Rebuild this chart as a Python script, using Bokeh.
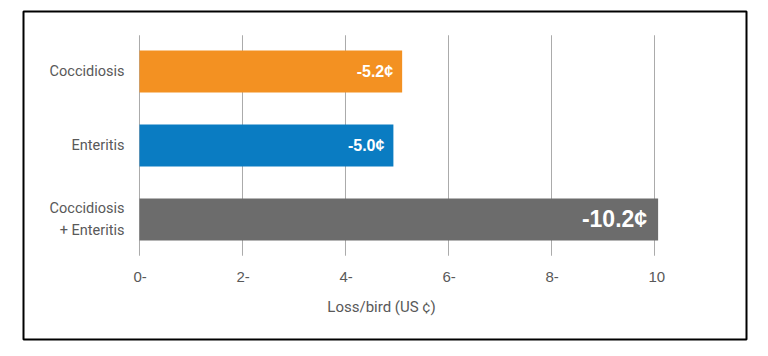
from bokeh.plotting import figure
from bokeh.models import ColumnDataSource, Range1d
from bokeh.core.properties import value
from bokeh.embed import file_html
from bokeh.resources import INLINE

# ---- data ----
categories = ["Coccidiosis", "Enteritis", "Coccidiosis\n+ Enteritis"]
loss_values = [5.1, 4.93, 10.07]
value_labels = ["-5.2¢", "-5.0¢", "-10.2¢"]
bar_colors = ["#F39122", "#0A7CC2", "#6C6C6C"]
y_positions = [2, 1, 0]
tick_values = [0, 2, 4, 6, 8, 10]
tick_labels = ["0-", "2-", "4-", "6-", "8-", "10"]
x_title = "Loss/bird (US ¢)"

FONT = "Roboto"
TXT = "#595959"

p = figure(width=760, height=350, output_backend="svg", toolbar_location=None,
           x_range=Range1d(-2.252, 11.786), y_range=Range1d(-1.622, 2.811),
           min_border_left=23, min_border_right=14, min_border_top=11, min_border_bottom=11)
p.xaxis.visible = False
p.yaxis.visible = False
p.xgrid.visible = False
p.ygrid.visible = False
p.outline_line_color = "black"
p.outline_line_width = 2
p.background_fill_color = "white"
p.border_fill_color = "white"

# gridlines (vertical), extending slightly past the bars
grid_src = ColumnDataSource(dict(x=tick_values, y0=[-0.49] * len(tick_values), y1=[2.49] * len(tick_values)))
p.segment(x0="x", y0="y0", x1="x", y1="y1", source=grid_src, line_color="#ABABAB", line_width=1)

# bars
bar_src = ColumnDataSource(dict(y=y_positions, right=loss_values, color=bar_colors,
                                label=value_labels, cat=categories,
                                size=["16px", "16px", "23px"], off=[-9, -9, -11]))
p.hbar(y="y", left=0, right="right", height=0.57, color="color", source=bar_src, line_color=None)

# value labels inside bars
p.text(x="right", y="y", text="label", source=bar_src, text_color="white",
       text_font=value("Liberation Sans"), text_font_style="bold", text_font_size="size",
       text_align="right", text_baseline="middle", x_offset="off")

# category labels
p.text(x=0, y="y", text="cat", source=bar_src, text_color=TXT,
       text_font=value(FONT), text_font_size="14.5px",
       text_align="right", text_baseline="middle", x_offset=-15, text_line_height=1.25)

# tick labels
tick_src = ColumnDataSource(dict(x=tick_values, y=[-0.784] * len(tick_values), t=tick_labels))
p.text(x="x", y="y", text="t", source=tick_src, text_color=TXT,
       text_font=value("Liberation Sans"), text_font_size="15px",
       text_align="left", text_baseline="middle", x_offset=-6)

# axis title
p.text(x=[4.7], y=[-1.176], text=[x_title], text_color=TXT,
       text_font=value(FONT), text_font_size="15px",
       text_align="center", text_baseline="middle")

open("out.html", "w").write(file_html(p, INLINE))
